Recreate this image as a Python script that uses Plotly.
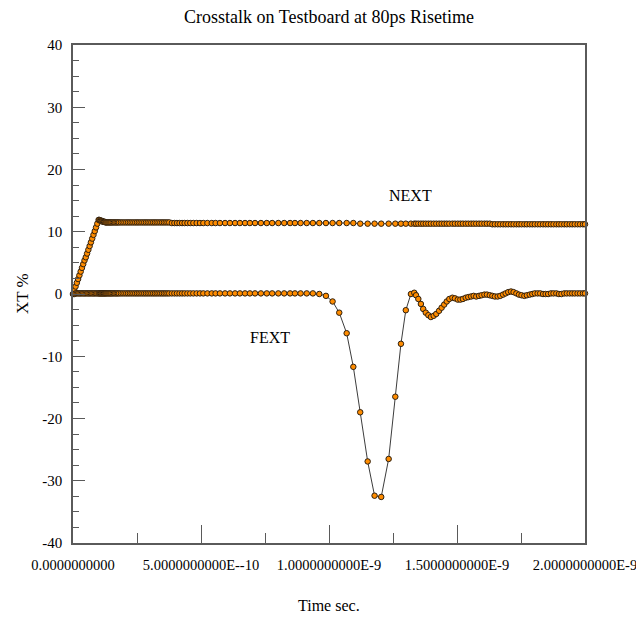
import plotly.graph_objects as go

# ---- data (time in ns, crosstalk in %) ----
time_ns = [
    # ramp
    0.000, 0.005, 0.010, 0.015, 0.020, 0.025, 0.030, 0.035, 0.040, 0.045, 0.050,
    0.055, 0.060, 0.065, 0.070, 0.075, 0.080, 0.085, 0.090, 0.095, 0.100,
    # dense settling
    0.103, 0.106, 0.109, 0.112, 0.115, 0.118, 0.121, 0.124, 0.127, 0.130,
    0.134, 0.138, 0.142, 0.146, 0.150, 0.155, 0.160, 0.165, 0.170, 0.175, 0.180,
    0.187, 0.194, 0.201, 0.208, 0.215, 0.222, 0.229, 0.236, 0.243, 0.250,
    0.257, 0.264, 0.271, 0.278, 0.285, 0.292, 0.299, 0.306, 0.313, 0.320,
    0.327, 0.334, 0.341, 0.348, 0.355, 0.362, 0.369, 0.376,
    0.386, 0.396, 0.406, 0.416, 0.426, 0.436, 0.447, 0.458, 0.470,
    # sparse middle and FEXT dip
    0.483, 0.496, 0.509, 0.525, 0.542, 0.557, 0.574, 0.594, 0.613, 0.633,
    0.652, 0.672, 0.691, 0.711, 0.734, 0.757, 0.778, 0.802, 0.825, 0.848,
    0.867, 0.889, 0.913, 0.937, 0.962, 0.988, 1.014, 1.040, 1.069, 1.095,
    1.122, 1.151, 1.178, 1.204, 1.233, 1.259, 1.281, 1.300,
    # dense tail
    1.320, 1.333, 1.340, 1.349, 1.359, 1.368, 1.378, 1.388, 1.398, 1.409,
    1.419, 1.430, 1.440, 1.450, 1.460, 1.470, 1.482, 1.492, 1.503, 1.513,
    1.523, 1.534, 1.544, 1.555, 1.565, 1.575, 1.586, 1.596, 1.607,
    1.617, 1.628, 1.638, 1.648, 1.659, 1.669, 1.680, 1.690, 1.700, 1.711,
    1.721, 1.732, 1.742, 1.752, 1.763, 1.773, 1.784, 1.794, 1.804, 1.815,
    1.825, 1.836, 1.846, 1.856, 1.867, 1.877, 1.888, 1.898, 1.908, 1.919,
    1.929, 1.940, 1.950, 1.960, 1.971, 1.981, 1.992, 2.000,
]

next_pct = [
    0.0, 0.6, 1.2, 1.8, 2.4, 3.0, 3.6, 4.2, 4.8, 5.4, 5.9,
    6.5, 7.1, 7.7, 8.3, 8.9, 9.5, 10.1, 10.7, 11.3, 11.9,
    11.9, 11.8, 11.8, 11.7, 11.7, 11.6, 11.6, 11.6, 11.5, 11.5,
    11.5, 11.5, 11.5, 11.5, 11.5, 11.5, 11.5, 11.5, 11.5, 11.5, 11.5,
    11.5, 11.5, 11.5, 11.5, 11.5, 11.5, 11.5, 11.5, 11.5, 11.5,
    11.5, 11.5, 11.5, 11.5, 11.5, 11.5, 11.5, 11.5, 11.5, 11.5,
    11.5, 11.5, 11.5, 11.5, 11.5, 11.5, 11.5, 11.5,
    11.4, 11.4, 11.4, 11.4, 11.4, 11.4, 11.4, 11.4, 11.4,
    11.4, 11.4, 11.4, 11.4, 11.4, 11.4, 11.4, 11.4, 11.4, 11.4,
    11.4, 11.4, 11.4, 11.4, 11.4, 11.4, 11.4, 11.4, 11.4, 11.4,
    11.4, 11.4, 11.4, 11.4, 11.4, 11.4, 11.4, 11.4, 11.4, 11.4,
    11.3, 11.3, 11.3, 11.3, 11.3, 11.3, 11.3, 11.3,
    11.3, 11.3, 11.3, 11.3, 11.3, 11.3, 11.3, 11.3, 11.3, 11.3,
    11.3, 11.3, 11.3, 11.3, 11.3, 11.3, 11.3, 11.3, 11.3, 11.3,
    11.3, 11.3, 11.3, 11.3, 11.3, 11.3, 11.3, 11.3, 11.3,
    11.3, 11.3, 11.2, 11.2, 11.2, 11.2, 11.2, 11.2, 11.2, 11.2,
    11.2, 11.2, 11.2, 11.2, 11.2, 11.2, 11.2, 11.2, 11.2, 11.2,
    11.2, 11.2, 11.2, 11.2, 11.2, 11.2, 11.2, 11.2, 11.2, 11.2,
    11.2, 11.2, 11.2, 11.2, 11.2, 11.2, 11.2, 11.2,
]

fext_pct = [
    0.0, 0.0, 0.1, 0.1, 0.1, 0.1, 0.1, 0.1, 0.1, 0.1, 0.1,
    0.1, 0.1, 0.1, 0.1, 0.1, 0.1, 0.1, 0.1, 0.1, 0.1,
    0.1, 0.1, 0.1, 0.1, 0.1, 0.1, 0.1, 0.1, 0.1, 0.1,
    0.1, 0.1, 0.1, 0.1, 0.1, 0.1, 0.1, 0.1, 0.1, 0.1, 0.1,
    0.1, 0.1, 0.1, 0.1, 0.1, 0.1, 0.1, 0.1, 0.1, 0.1,
    0.1, 0.1, 0.1, 0.1, 0.1, 0.1, 0.1, 0.1, 0.1, 0.1,
    0.1, 0.1, 0.1, 0.1, 0.1, 0.1, 0.1, 0.1,
    0.1, 0.1, 0.1, 0.1, 0.1, 0.1, 0.1, 0.1, 0.1,
    0.1, 0.1, 0.1, 0.1, 0.1, 0.1, 0.1, 0.1, 0.1, 0.1,
    0.1, 0.1, 0.1, 0.1, 0.1, 0.1, 0.1, 0.1, 0.1, 0.1,
    0.1, 0.1, 0.1, 0.1, 0.0, -0.3, -1.2, -3.0, -6.3, -11.7,
    -19.0, -26.9, -32.4, -32.6, -26.5, -16.5, -8.0, -2.6,
    0.0, 0.2, -0.2, -0.8, -1.6, -2.4, -3.0, -3.4, -3.7, -3.5,
    -3.2, -2.7, -2.2, -1.7, -1.2, -0.8, -0.6, -0.7, -0.9, -0.9,
    -0.8, -0.6, -0.5, -0.4, -0.3, -0.4, -0.3, -0.2, -0.1,
    -0.1, -0.2, -0.3, -0.4, -0.4, -0.3, -0.1, 0.1, 0.3, 0.4,
    0.3, 0.1, -0.1, -0.2, -0.3, -0.2, -0.1, 0.0, 0.1, 0.1,
    0.1, 0.0, 0.0, 0.0, 0.1, 0.1, 0.1, 0.0, 0.0, 0.1,
    0.1, 0.1, 0.1, 0.1, 0.1, 0.1, 0.1, 0.1,
]

x_tick_vals = [0, 0.5, 1.0, 1.5, 2.0]
x_tick_text = ["0.0000000000", "5.0000000000E--10", "1.0000000000E-9",
               "1.5000000000E-9", "2.0000000000E-9"]
y_tick_vals = [40, 30, 20, 10, 0, -10, -20, -30, -40]
y_tick_text = ["40", "30", "20", "10", "0", "-10", "-20", "-30", "-40"]
series_names = ["NEXT", "FEXT"]
label_pos = {"NEXT": (1.32, 15.8), "FEXT": (0.77, -7.0)}

SERIF = "Liberation Serif, Times New Roman, serif"
AXIS_COL = "#5a5a5a"

fig = go.Figure()
for name, vals in zip(series_names, [next_pct, fext_pct]):
    fig.add_trace(go.Scatter(
        x=time_ns, y=vals, mode="lines+markers", name=name,
        line=dict(color="#3c3c3c", width=1),
        marker=dict(size=5.5, color="#FF8C00", line=dict(color="#2e2010", width=1)),
        cliponaxis=False, showlegend=False,
    ))

for name in series_names:
    lx, ly = label_pos[name]
    fig.add_annotation(x=lx, y=ly, xref="x", yref="y", text=name, showarrow=False,
                       font=dict(family=SERIF, size=16, color="black"))

fig.add_annotation(x=-0.0996, y=0.5, xref="paper", yref="paper", text="XT %",
                   textangle=-90, showarrow=False, xanchor="center", yanchor="middle",
                   font=dict(family=SERIF, size=17, color="black"))
fig.add_annotation(x=0.5, y=-0.1245, xref="paper", yref="paper", text="Time sec.",
                   showarrow=False, xanchor="center", yanchor="middle",
                   font=dict(family=SERIF, size=16, color="black"))

fig.update_layout(
    width=636, height=620,
    margin=dict(l=73, r=51, t=45, b=77),
    paper_bgcolor="white", plot_bgcolor="white",
    title=dict(text="Crosstalk on Testboard at 80ps Risetime", x=0.5, xref="paper",
               y=1 - 17 / 620, yref="container", yanchor="middle", xanchor="center",
               font=dict(family=SERIF, size=18, color="black")),
    xaxis=dict(range=[0, 2], tickmode="array", tickvals=x_tick_vals, ticktext=x_tick_text,
               ticks="inside", ticklen=18, tickwidth=1, tickcolor=AXIS_COL,
               minor=dict(tick0=0, dtick=0.25, ticks="inside", ticklen=10, tickcolor=AXIS_COL),
               showline=True, linecolor=AXIS_COL, linewidth=1.5, mirror=True,
               showgrid=False, zeroline=False, ticklabelstandoff=8,
               ticklabeloverflow="allow", automargin=False,
               tickfont=dict(family=SERIF, size=14.5, color="black")),
    yaxis=dict(range=[-40, 40], tickmode="array", tickvals=y_tick_vals, ticktext=y_tick_text,
               ticks="inside", ticklen=12, tickwidth=1, tickcolor=AXIS_COL,
               minor=dict(tick0=0, dtick=2.5, ticks="inside", ticklen=6, tickcolor=AXIS_COL),
               showline=True, linecolor=AXIS_COL, linewidth=1.5, mirror=True,
               showgrid=False, zeroline=False, ticklabelstandoff=6, automargin=False,
               tickfont=dict(family=SERIF, size=15, color="black")),
)

fig.write_html("out.html", config={"displayModeBar": False},
               post_script="document.body.style.margin='0';")
